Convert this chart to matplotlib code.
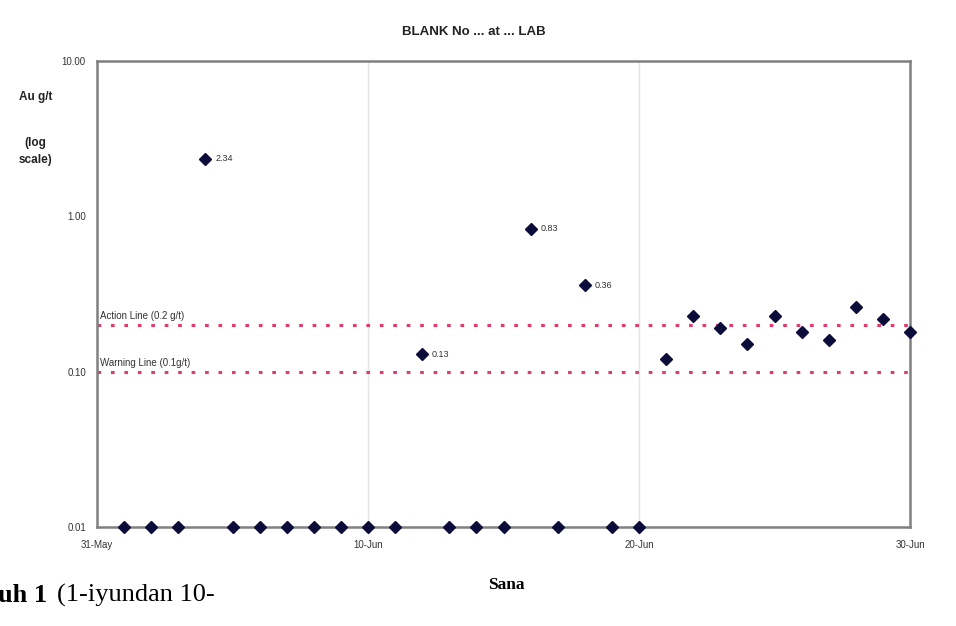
import matplotlib.pyplot as plt

# dias desde 31-May
dias = [1, 2, 3, 4, 5, 6, 7, 8, 9, 10, 11, 12, 13, 14, 15, 16, 17, 18, 19, 20,
        21, 22, 23, 24, 25, 26, 27, 28, 29, 30]
au = [0.01, 0.01, 0.01, 2.34, 0.01, 0.01, 0.01, 0.01, 0.01, 0.01, 0.01, 0.13,
      0.01, 0.01, 0.01, 0.83, 0.01, 0.36, 0.01, 0.01,
      0.12, 0.23, 0.19, 0.15, 0.23, 0.18, 0.16, 0.26, 0.22, 0.18]
rotulos = {4: '2.34', 12: '0.13', 16: '0.83', 18: '0.36'}

tick_dias = [0, 10, 20, 30]
tick_nomes = ['31-May', '10-Jun', '20-Jun', '30-Jun']
y_ticks = [0.01, 0.1, 1, 10]
y_nomes = ['0.01', '0.10', '1.00', '10.00']

action = 0.2
warning = 0.1

plt.rcParams['font.family'] = ['Liberation Sans', 'DejaVu Sans']

fig = plt.figure(figsize=(9.56, 6.26), dpi=100)
ax = fig.add_axes([0.1015, 0.158, 0.8505, 0.7446])

ax.set_yscale('log')
ax.set_xlim(0, 30)
ax.set_ylim(0.01, 10)

for d in tick_dias[1:3]:
    ax.axvline(d, color='#e4e4e4', lw=1, zorder=0)

ax.axhline(action, color='#e23a6a', lw=2.2, ls=(0, (1.2, 3.2)), zorder=1)
ax.axhline(warning, color='#e23a6a', lw=2.2, ls=(0, (1.2, 3.2)), zorder=1)
ax.text(0.1, action * 1.06, 'Action Line (0.2 g/t)', fontsize=7, color='#333333', va='bottom')
ax.text(0.1, warning * 1.06, 'Warning Line (0.1g/t)', fontsize=7, color='#333333', va='bottom')

ax.plot(dias, au, linestyle='none', marker='D', markersize=6, color='#0c0c3a',
        clip_on=False, zorder=3)
for d, txt in rotulos.items():
    ax.annotate(txt, (d, au[dias.index(d)]), xytext=(7, 0), textcoords='offset points',
                fontsize=6.5, color='#333333', va='center')

ax.set_xticks(tick_dias)
ax.set_xticklabels(tick_nomes)
ax.set_yticks(y_ticks)
ax.set_yticklabels(y_nomes)
ax.minorticks_off()
ax.tick_params(axis='both', length=0, labelsize=7, colors='#333333')
ax.tick_params(axis='x', pad=9)
ax.tick_params(axis='y', pad=8)

for s in ax.spines.values():
    s.set_color('#808080')
    s.set_linewidth(1.8)

fig.text(0.496, 0.949, 'BLANK No ... at ... LAB', ha='center', va='center',
         fontsize=9.5, fontweight='bold', color='#222222')
fig.text(0.037, 0.845, 'Au g/t', ha='center', va='center', fontsize=8.5, fontweight='bold',
         color='#222222')
fig.text(0.037, 0.758, '(log\nscale)', ha='center', va='center', fontsize=8.5, fontweight='bold',
         color='#222222', linespacing=1.6)

fig.text(0.53, 0.066, 'Sana', ha='center', va='center', fontsize=12.5, fontweight='bold',
         family='Liberation Serif')
fig.text(-0.002, 0.049, 'uh 1', ha='left', va='center', fontsize=19, fontweight='bold',
         family='Liberation Serif')
fig.text(0.0596, 0.049, '(1-iyundan 10-', ha='left', va='center', fontsize=19,
         family='Liberation Serif')

fig.savefig('out.png', dpi=100)
